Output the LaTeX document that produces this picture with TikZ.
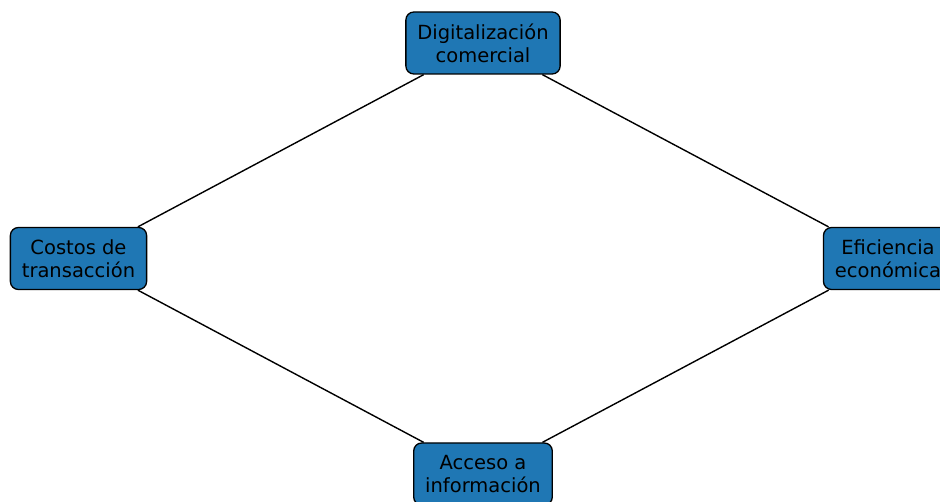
\documentclass[tikz,border=0pt]{standalone}
\usepackage{fontspec}
\setmainfont{DejaVu Sans}
\definecolor{tabblue}{HTML}{1F77B4}
\begin{document}
\begin{tikzpicture}[x=1pt,y=-1pt,
  box/.style={draw=black, line width=1.3pt, fill=tabblue, rounded corners=8pt,
    align=center, inner xsep=11.5pt, inner ysep=0pt, minimum height=62pt,
    font=\fontsize{19.5}{23}\selectfont, text=black},
  link/.style={draw=black, line width=1.4pt}]
\useasboundingbox (0,0) rectangle (940,502);
\node[box] (dig) at (483,43) {Digitalización\\comercial};
\node[box] (cos) at (78.5,258.5) {Costos de\\transacción};
\node[box] (efi) at (888,258.5) {Eficiencia\\económica};
\node[box] (acc) at (483,474) {Acceso a\\información};
\begin{scope}[on background layer/.try]
\end{scope}
\draw[link] (dig) -- (cos);
\draw[link] (dig) -- (efi);
\draw[link] (cos) -- (acc);
\draw[link] (efi) -- (acc);
\end{tikzpicture}
\end{document}
